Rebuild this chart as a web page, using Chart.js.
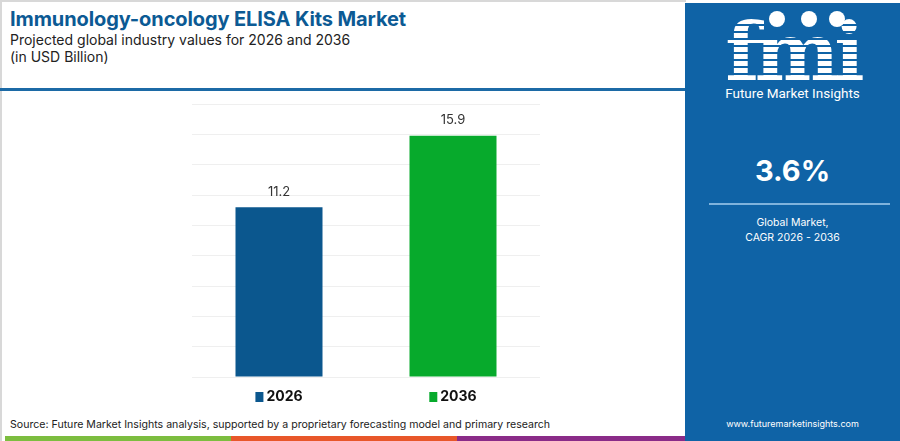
<!DOCTYPE html>
<html>
<head>
<meta charset="utf-8">
<script src="https://cdn.jsdelivr.net/npm/chart.js@4.4.1/dist/chart.umd.min.js"></script>
<style>
  html, body { margin: 0; padding: 0; }
  body { width: 900px; height: 441px; position: relative; overflow: hidden; background: #fff; font-family: Inter, "Open Sans", sans-serif; }
  .card { position: absolute; left: 0; top: 0; width: 686px; height: 441px; border-top: 2px solid #d8d8d8; border-left: 2px solid #d8d8d8; box-sizing: border-box; }
  .title { position: absolute; left: 10px; top: 7px; font-size: 20px; font-weight: 700; color: #0c5a94; letter-spacing: -0.1px; white-space: nowrap; }
  .sub { position: absolute; left: 10px; font-size: 14px; color: #222; white-space: nowrap; }
  .rule { position: absolute; left: 0; top: 88px; width: 686px; height: 3px; background: #1c6aa6; }
  .panel { position: absolute; left: 685px; top: 3px; width: 215px; height: 438px; background: #0f63a6; color: #fff; text-align: center; }
  .fmi { position: absolute; left: 0; width: 215px; top: 2px; font-size: 80px; font-weight: 900; font-family: "DejaVu Serif", serif; letter-spacing: -5px;
         background: repeating-linear-gradient(#fff 0 5px, transparent 5px 7px); -webkit-background-clip: text; background-clip: text; color: transparent; }
  .globe { position: absolute; width: 16px; height: 16px; border-radius: 50%; background: #fff; top: 8px; }
  .brand { position: absolute; left: 0; width: 215px; top: 82px; font-size: 13.5px; font-family: Roboto, sans-serif; }
  .cagr { position: absolute; left: 0; width: 215px; top: 150px; font-size: 29px; font-weight: 700; }
  .line { position: absolute; left: 24px; width: 181px; top: 200px; height: 2px; background: #7fb3dc; }
  .gm { position: absolute; left: 0; width: 215px; top: 212px; font-size: 10.5px; line-height: 15px; }
  .www { position: absolute; left: 0; width: 215px; top: 415px; font-size: 9px; }
  .source { position: absolute; left: 10px; top: 418px; font-size: 10.6px; color: #222; white-space: nowrap; }
  .strip { position: absolute; top: 436px; height: 5px; }
  #wrap { position: absolute; left: 180px; top: 95px; width: 380px; height: 330px; }
</style>
</head>
<body>
<div class="card"></div>
<div class="title">Immunology-oncology ELISA Kits Market</div>
<div class="sub" style="top:31px">Projected global industry values for 2026 and 2036</div>
<div class="sub" style="top:48px">(in USD Billion)</div>
<div class="rule"></div>
<div class="panel">
  <div class="fmi">fmi</div>
  <div class="globe" style="left:84px"></div>
  <div class="globe" style="left:116px"></div>
  <div class="globe" style="left:144px"></div>
  <div class="brand">Future Market Insights</div>
  <div class="cagr">3.6%</div>
  <div class="line"></div>
  <div class="gm">Global Market,<br>CAGR 2026 - 2036</div>
  <div class="www">www.futuremarketinsights.com</div>
</div>
<div class="source">Source: Future Market Insights analysis, supported by a proprietary forecasting model and primary research</div>
<div class="strip" style="left:5px;width:226px;background:#7cbd3f"></div>
<div class="strip" style="left:231px;width:226px;background:#e8572a"></div>
<div class="strip" style="left:457px;width:228px;background:#8a2b88"></div>
<div id="wrap"><canvas id="chart"></canvas></div>
<script>
const years = ['2026', '2036'];
const values = [11.2, 15.9];
const barColors = ['#0b578e', '#07aa2c'];
const yMax = 18;
const yStep = 2;

const valueLabels = {
  id: 'valueLabels',
  afterDatasetsDraw(chart) {
    const ctx = chart.ctx;
    const meta = chart.getDatasetMeta(0);
    ctx.save();
    ctx.font = '13px Inter, sans-serif';
    ctx.fillStyle = '#333';
    ctx.textAlign = 'center';
    ctx.textBaseline = 'bottom';
    meta.data.forEach((bar, i) => {
      ctx.fillText(values[i].toFixed(1), bar.x, bar.y - 9);
    });
    ctx.restore();
  }
};

const bottomLegend = {
  id: 'bottomLegend',
  afterDraw(chart) {
    const ctx = chart.ctx;
    const meta = chart.getDatasetMeta(0);
    const y = chart.chartArea.bottom + 20;
    ctx.save();
    ctx.font = 'bold 14px Inter, sans-serif';
    ctx.textBaseline = 'middle';
    meta.data.forEach((bar, i) => {
      const tw = ctx.measureText(years[i]).width;
      const total = 8 + 3 + tw;
      const x0 = bar.x - total / 2;
      ctx.fillStyle = barColors[i];
      ctx.fillRect(x0, y - 5, 8, 10);
      ctx.fillStyle = '#111';
      ctx.fillText(years[i], x0 + 11, y);
    });
    ctx.restore();
  }
};

new Chart(document.getElementById('chart'), {
  type: 'bar',
  data: {
    labels: years,
    datasets: [{
      data: values,
      backgroundColor: barColors,
      barPercentage: 0.5,
      categoryPercentage: 1.0
    }]
  },
  options: {
    responsive: true,
    maintainAspectRatio: false,
    animation: false,
    layout: { padding: { left: 12, right: 20, top: 9, bottom: 40 } },
    plugins: { legend: { display: false }, tooltip: { enabled: false } },
    scales: {
      x: {
        ticks: { display: false },
        grid: { display: false },
        border: { display: false }
      },
      y: {
        min: 0,
        max: yMax,
        ticks: { display: false, stepSize: yStep },
        grid: { color: '#efefef', drawTicks: false },
        border: { display: false }
      }
    }
  },
  plugins: [valueLabels, bottomLegend]
});
</script>
</body>
</html>
